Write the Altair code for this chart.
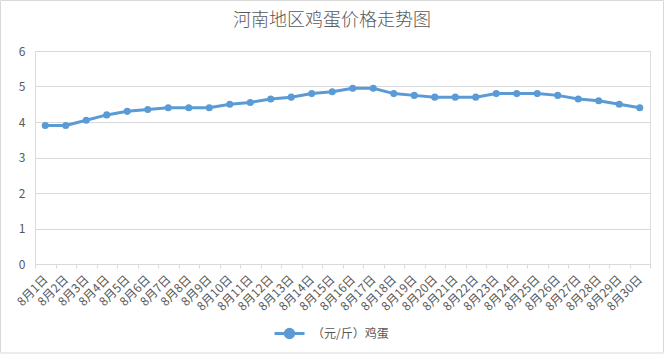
import altair as alt
import pandas as pd

dates = [f"8月{i}日" for i in range(1, 31)]
prices = [3.90, 3.90, 4.05, 4.20, 4.30, 4.35, 4.40, 4.40, 4.40, 4.50,
          4.55, 4.65, 4.70, 4.80, 4.85, 4.95, 4.95, 4.80, 4.75, 4.70,
          4.70, 4.70, 4.80, 4.80, 4.80, 4.75, 4.65, 4.60, 4.50, 4.40]
series_name = "（元/斤）鸡蛋"
title_text = "河南地区鸡蛋价格走势图"

df = pd.DataFrame({"date": dates, "price": prices, "series": series_name})

FONT = "Noto Sans CJK SC"
GREY = "#595959"
BLUE = "#5b9bd5"

x_enc = alt.X("date:N", sort=dates, title=None,
              scale=alt.Scale(type="band", paddingInner=0, paddingOuter=0),
              axis=alt.Axis(labelAngle=315, labelAlign="right", labelBaseline="middle",
                            labelFontSize=12, labelColor=GREY, labelFont=FONT,
                            labelPadding=9, tickBand="extent", tickSize=4,
                            tickColor="#d9d9d9", domainColor="#d9d9d9",
                            grid=False, labelOverlap=False))
y_enc = alt.Y("price:Q", title=None,
              scale=alt.Scale(domain=[0, 6], nice=False),
              axis=alt.Axis(values=[0, 1, 2, 3, 4, 5, 6], domain=False, ticks=False,
                            labelFontSize=12, labelColor=GREY, labelFont=FONT,
                            labelPadding=10, gridColor="#d9d9d9", grid=True))
color_enc = alt.Color("series:N", title=None,
                      scale=alt.Scale(range=[BLUE]),
                      legend=alt.Legend(orient="none", legendX=238, legendY=266,
                                        symbolType="M-1,0H1M-0.28,0A0.28,0.28,0,1,1,0.28,0A0.28,0.28,0,1,1,-0.28,0Z",
                                        symbolSize=900, symbolStrokeWidth=3,
                                        symbolFillColor=BLUE, symbolStrokeColor=BLUE,
                                        labelFontSize=12, labelColor=GREY, labelFont=FONT,
                                        labelOffset=6))

line = alt.Chart(df).mark_line(strokeWidth=3).encode(x=x_enc, y=y_enc, color=color_enc)
pts = alt.Chart(df).mark_circle(size=50, opacity=1).encode(
    x=x_enc, y=y_enc,
    color=alt.Color("series:N", legend=None, scale=alt.Scale(range=[BLUE])))

one = alt.Data(values=[{"t": title_text}])
border = alt.Chart(one).mark_rect(
    fill=None, stroke="#d9d9d9", strokeWidth=1
).encode(x=alt.value(-34.5), x2=alt.value(628.5), y=alt.value(-50.5), y2=alt.value(302))

title = alt.Chart(one).mark_text(
    font=FONT, fontSize=18, fontWeight=300, color=GREY, align="center", baseline="middle"
).encode(text="t:N", x=alt.value(297), y=alt.value(-30))

chart = alt.layer(border, title, line, pts).properties(
    width=615, height=213,
    padding={"left": 35, "top": 51, "right": 15, "bottom": 90},
    autosize=alt.AutoSizeParams(type="none"),
).configure_view(stroke=None).configure(background="white")

chart.save("out.html", embed_options={"renderer": "svg", "actions": False})
